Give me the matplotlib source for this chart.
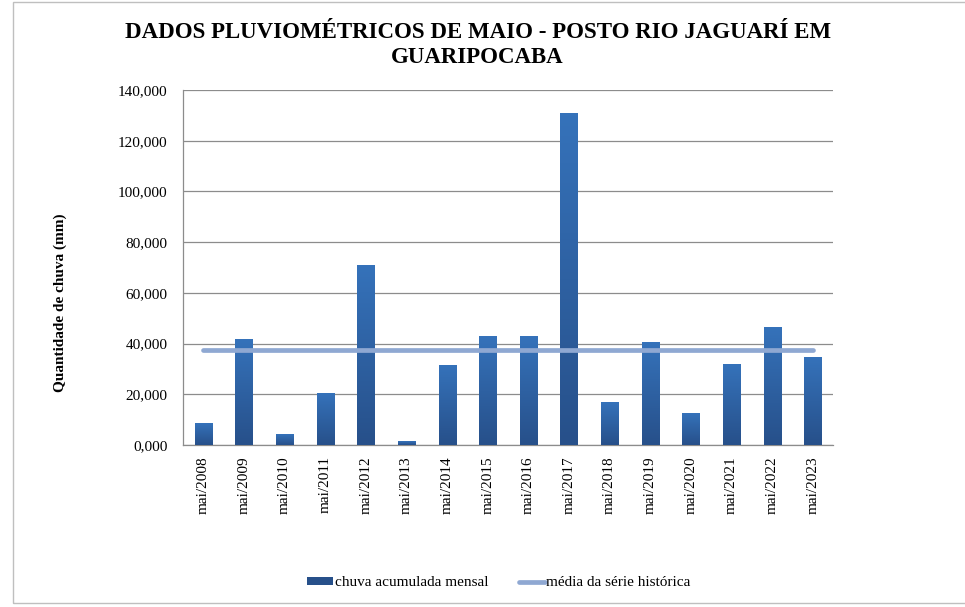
import numpy as np
import matplotlib
matplotlib.use('Agg')
import matplotlib.pyplot as plt
from matplotlib.colors import LinearSegmentedColormap
from matplotlib.patches import Rectangle, Patch
from matplotlib.lines import Line2D
from matplotlib.ticker import FuncFormatter

plt.rcParams['font.family'] = ['Liberation Serif', 'DejaVu Serif']

meses = ['mai/2008', 'mai/2009', 'mai/2010', 'mai/2011', 'mai/2012', 'mai/2013',
         'mai/2014', 'mai/2015', 'mai/2016', 'mai/2017', 'mai/2018', 'mai/2019',
         'mai/2020', 'mai/2021', 'mai/2022', 'mai/2023']
chuva = [8.3, 41.8, 4.3, 20.5, 70.6, 1.2, 31.5, 42.6, 42.9, 130.9,
         16.6, 40.6, 12.6, 31.8, 46.5, 34.7]
media = [37.5] * len(meses)

COR_TOPO = '#3572BA'
COR_BASE = '#27508A'
COR_MEDIA = '#8FA8D2'

fig = plt.figure(figsize=(9.65, 6.07), dpi=100)
ax = fig.add_axes([183 / 965, 1 - 445 / 607, 650 / 965, 355 / 607])

# moldura do grafico (cortada a direita, como no original)
fig.patches.append(Rectangle((13 / 965, 1 - 603 / 607), 1.2, 601 / 607,
                             transform=fig.transFigure, fill=False,
                             edgecolor='#BFBFBF', linewidth=1.0))

x = np.arange(len(meses))
largura = 0.42
cmap = LinearSegmentedColormap.from_list('barra', [COR_BASE, COR_TOPO])
grad = np.linspace(0, 1, 100).reshape(-1, 1)
for xi, v in zip(x, chuva):
    ax.imshow(grad, extent=[xi - largura / 2, xi + largura / 2, 0, v],
              origin='lower', aspect='auto', cmap=cmap, zorder=3)

ax.plot(x, media, color=COR_MEDIA, linewidth=3.4, solid_capstyle='round', zorder=4)

ax.set_xlim(-0.5, len(meses) - 0.5)
ax.set_ylim(0, 140)
ax.set_yticks(np.arange(0, 141, 20))
ax.yaxis.set_major_formatter(FuncFormatter(lambda v, p: f'{v:,.3f}'.replace(',', 'X').replace('.', ',').replace('X', '.')))
ax.set_xticks(x)
ax.set_xticklabels(meses, rotation=90)
ax.tick_params(axis='y', length=0, pad=11, labelsize=11)
ax.tick_params(axis='x', length=0, pad=8, labelsize=11)
ax.grid(axis='y', color='#8C8C8C', linewidth=0.9, zorder=0)
ax.set_axisbelow(True)
for s in ['top', 'right']:
    ax.spines[s].set_visible(False)
for s in ['left', 'bottom']:
    ax.spines[s].set_color('#8C8C8C')
    ax.spines[s].set_linewidth(0.9)

fig.text(0.495, 1 - 45 / 607, 'DADOS PLUVIOMÉTRICOS DE MAIO - POSTO RIO JAGUARÍ EM\nGUARIPOCABA',
         ha='center', va='center', fontsize=16.5, fontweight='bold', linespacing=1.25)
fig.text(60 / 965, 1 - 303 / 607, 'Quantidade de chuva (mm)', rotation=90,
         ha='center', va='center', fontsize=11, fontweight='bold')

handles = [Patch(facecolor=COR_BASE, edgecolor='none'),
           Line2D([0], [0], color=COR_MEDIA, linewidth=3.4, solid_capstyle='round')]
fig.legend(handles, ['chuva acumulada mensal', 'média da série histórica'],
           loc='center', bbox_to_anchor=(0.517, 1 - 583 / 607), ncol=2, frameon=False,
           fontsize=11, handlelength=1.7, handletextpad=0.1, columnspacing=2.0,
           handleheight=0.5)

fig.savefig('out.png', dpi=100, facecolor='white')
